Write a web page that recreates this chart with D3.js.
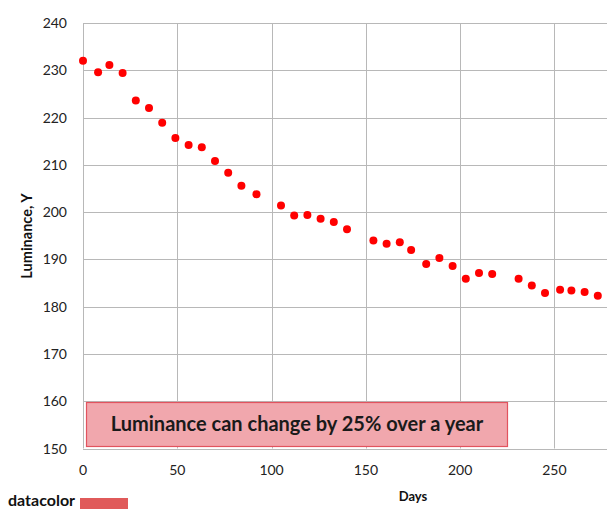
<!DOCTYPE html>
<meta charset="utf-8">
<style>
    body { margin: 0; background: #fff; }
    text { font-family: Lato, "Open Sans", sans-serif; }
</style>
<svg width="607" height="509"></svg>
<script src="https://d3js.org/d3.v7.min.js"></script>
<script>

    var days = [0, 8, 14, 21, 28, 35, 42, 49, 56, 63, 70, 77, 84, 92,
        105, 112, 119, 126, 133, 140, 154, 161, 168, 174, 182, 189, 196,
        203, 210, 217, 231, 238, 245, 253, 259, 266, 273];
    var luminance = [232.0, 229.6, 231.1, 229.4, 223.6, 222.0, 218.9, 215.7, 214.2, 213.7, 210.8, 208.3, 205.6, 203.8,
        201.4, 199.3, 199.4, 198.6, 197.9, 196.4, 194.0, 193.3, 193.6, 192.0, 189.0, 190.3, 188.6,
        185.9, 187.1, 186.9, 185.9, 184.5, 182.9, 183.6, 183.4, 183.1, 182.3];
    var xTicks = [0, 50, 100, 150, 200, 250];
    var yTicks = [150, 160, 170, 180, 190, 200, 210, 220, 230, 240];
    var note = "Luminance can change by 25% over a year";

    var svg = d3.select("svg");

    var x = d3.scaleLinear().domain([0, 280]).range([83, 611]);
    var y = d3.scaleLinear().domain([150, 240]).range([448.5, 23]);

    // grid
    svg.append("g").selectAll("line")
        .data(yTicks)
        .enter().append("line")
        .attr("x1", x(0)).attr("x2", 607)
        .attr("y1", function (d) { return Math.round(y(d)) + 0.5; })
        .attr("y2", function (d) { return Math.round(y(d)) + 0.5; })
        .attr("stroke", "#b8b8b8");

    svg.append("g").selectAll("line")
        .data(xTicks)
        .enter().append("line")
        .attr("y1", y(240)).attr("y2", y(150))
        .attr("x1", function (d) { return Math.round(x(d)) + 0.5; })
        .attr("x2", function (d) { return Math.round(x(d)) + 0.5; })
        .attr("stroke", "#b8b8b8");

    // tick labels
    svg.append("g").selectAll("text")
        .data(yTicks)
        .enter().append("text")
        .attr("x", 67)
        .attr("y", function (d) { return y(d) + 5; })
        .attr("text-anchor", "end")
        .attr("font-size", 14)
        .attr("fill", "#222")
        .text(function (d) { return d; });

    svg.append("g").selectAll("text")
        .data(xTicks)
        .enter().append("text")
        .attr("x", function (d) { return x(d); })
        .attr("y", 475)
        .attr("text-anchor", "middle")
        .attr("font-size", 14)
        .attr("fill", "#222")
        .text(function (d) { return d; });

    // axis titles
    svg.append("text")
        .attr("x", 413).attr("y", 501)
        .attr("text-anchor", "middle")
        .attr("font-size", 13).attr("font-weight", "bold")
        .attr("fill", "#111")
        .text("Days");

    svg.append("text")
        .attr("transform", "translate(32,236) rotate(-90)")
        .attr("text-anchor", "middle")
        .attr("font-size", 14.5).attr("font-weight", "bold")
        .attr("fill", "#111")
        .text("Luminance, Y");

    // annotation box
    svg.append("rect")
        .attr("x", 86.5).attr("y", 402.5)
        .attr("width", 421).attr("height", 44)
        .attr("fill", "#f1a7ad")
        .attr("stroke", "#e2535e")
        .attr("stroke-width", 1.2);

    svg.append("text")
        .attr("x", 297).attr("y", 431)
        .attr("text-anchor", "middle")
        .attr("font-size", 20).attr("font-weight", "bold")
        .attr("fill", "#1a1a1a")
        .text(note);

    // points
    svg.append("g").selectAll("circle")
        .data(days)
        .enter().append("circle")
        .attr("cx", function (d) { return x(d); })
        .attr("cy", function (d, i) { return y(luminance[i]); })
        .attr("r", 4)
        .attr("fill", "#ff0000");

    // logo
    svg.append("text")
        .attr("x", 8).attr("y", 506)
        .attr("font-size", 16).attr("font-weight", "bold")
        .attr("fill", "#111")
        .text("datacolor");

    svg.append("rect")
        .attr("x", 80).attr("y", 498)
        .attr("width", 48).attr("height", 11)
        .attr("fill", "#e05a5a");

</script>
